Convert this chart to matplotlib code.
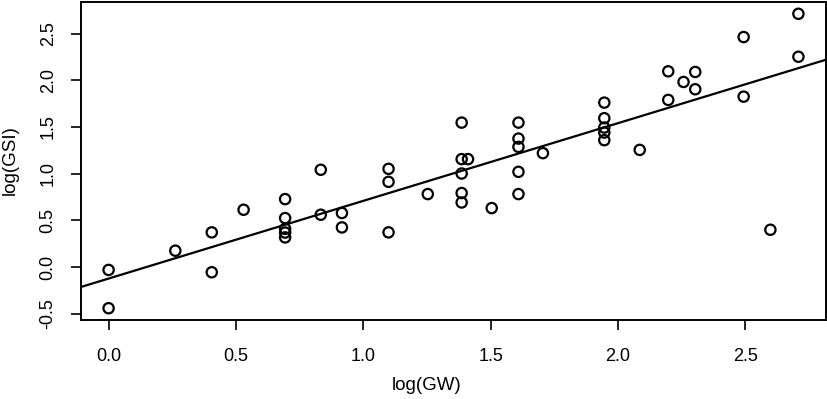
import numpy as np
import matplotlib
matplotlib.use("Agg")
import matplotlib.pyplot as plt

plt.rcParams['font.family'] = ['Liberation Sans', 'DejaVu Sans']

# log(GW) values and log(GSI) values
log_gw = [0.0, 0.0,
          0.262,
          0.405, 0.405,
          0.530,
          0.693, 0.693, 0.693, 0.693, 0.693,
          0.833, 0.833,
          0.916, 0.916,
          1.099, 1.099, 1.099,
          1.253,
          1.386, 1.386, 1.386, 1.386, 1.386,
          1.411,
          1.504,
          1.609, 1.609, 1.609, 1.609, 1.609,
          1.705,
          1.946, 1.946, 1.946, 1.946, 1.946,
          2.085,
          2.197, 2.197,
          2.257,
          2.303, 2.303,
          2.493, 2.493,
          2.598,
          2.708, 2.708]
log_gsi = [-0.03, -0.44,
           0.176,
           0.372, -0.055,
           0.614,
           0.728, 0.525, 0.41, 0.37, 0.318,
           1.042, 0.561,
           0.579, 0.425,
           1.052, 0.913, 0.372,
           0.782,
           1.547, 1.156, 1.002, 0.793, 0.692,
           1.156,
           0.632,
           1.547, 1.376, 1.287, 1.02, 0.782,
           1.22,
           1.761, 1.594, 1.494, 1.44, 1.359,
           1.255,
           2.096, 1.79,
           1.982,
           2.089, 1.904,
           2.463, 1.825,
           0.40,
           2.712, 2.252]

x_ticks = [0.0, 0.5, 1.0, 1.5, 2.0, 2.5]
y_ticks = [-0.5, 0.0, 0.5, 1.0, 1.5, 2.0, 2.5]

x = np.array(log_gw)
y = np.array(log_gsi)

fig = plt.figure(figsize=(8.27, 3.99), dpi=100)
ax = fig.add_axes([81/827, 1 - 320/399, 745/827, 318/399])

ax.scatter(x, y, s=55, facecolors='none', edgecolors='black', linewidths=1.6, zorder=3)

# regression line (like abline(lm(y ~ x)))
slope, intercept = np.polyfit(x, y, 1)
xr = x.max() - x.min()
yr = y.max() - y.min()
xlim = (x.min() - 0.04 * xr, x.max() + 0.04 * xr)
ylim = (y.min() - 0.04 * yr, y.max() + 0.04 * yr)
xl = np.array(xlim)
ax.plot(xl, intercept + slope * xl, color='black', linewidth=1.6, zorder=2)

ax.set_xlim(*xlim)
ax.set_ylim(*ylim)

ax.set_xticks(x_ticks)
ax.set_xticklabels([f"{t:.1f}" for t in x_ticks])
ax.set_yticks(y_ticks)
ax.set_yticklabels([f"{t:.1f}" for t in y_ticks], rotation=90, va='center')

ax.tick_params(axis='both', direction='out', length=7.5, width=1.2, labelsize=13,
               colors='black')
ax.tick_params(axis='x', pad=13)
ax.tick_params(axis='y', pad=10)

for sp in ax.spines.values():
    sp.set_linewidth(1.4)
    sp.set_color('black')

fig.text(427/827, 1 - 386/399, "log(GW)", ha='center', va='center', fontsize=13.5)
fig.text(10/827, 1 - 160/399, "log(GSI)", ha='center', va='center', rotation=90, fontsize=13.5)

fig.savefig("out.png", dpi=100)
